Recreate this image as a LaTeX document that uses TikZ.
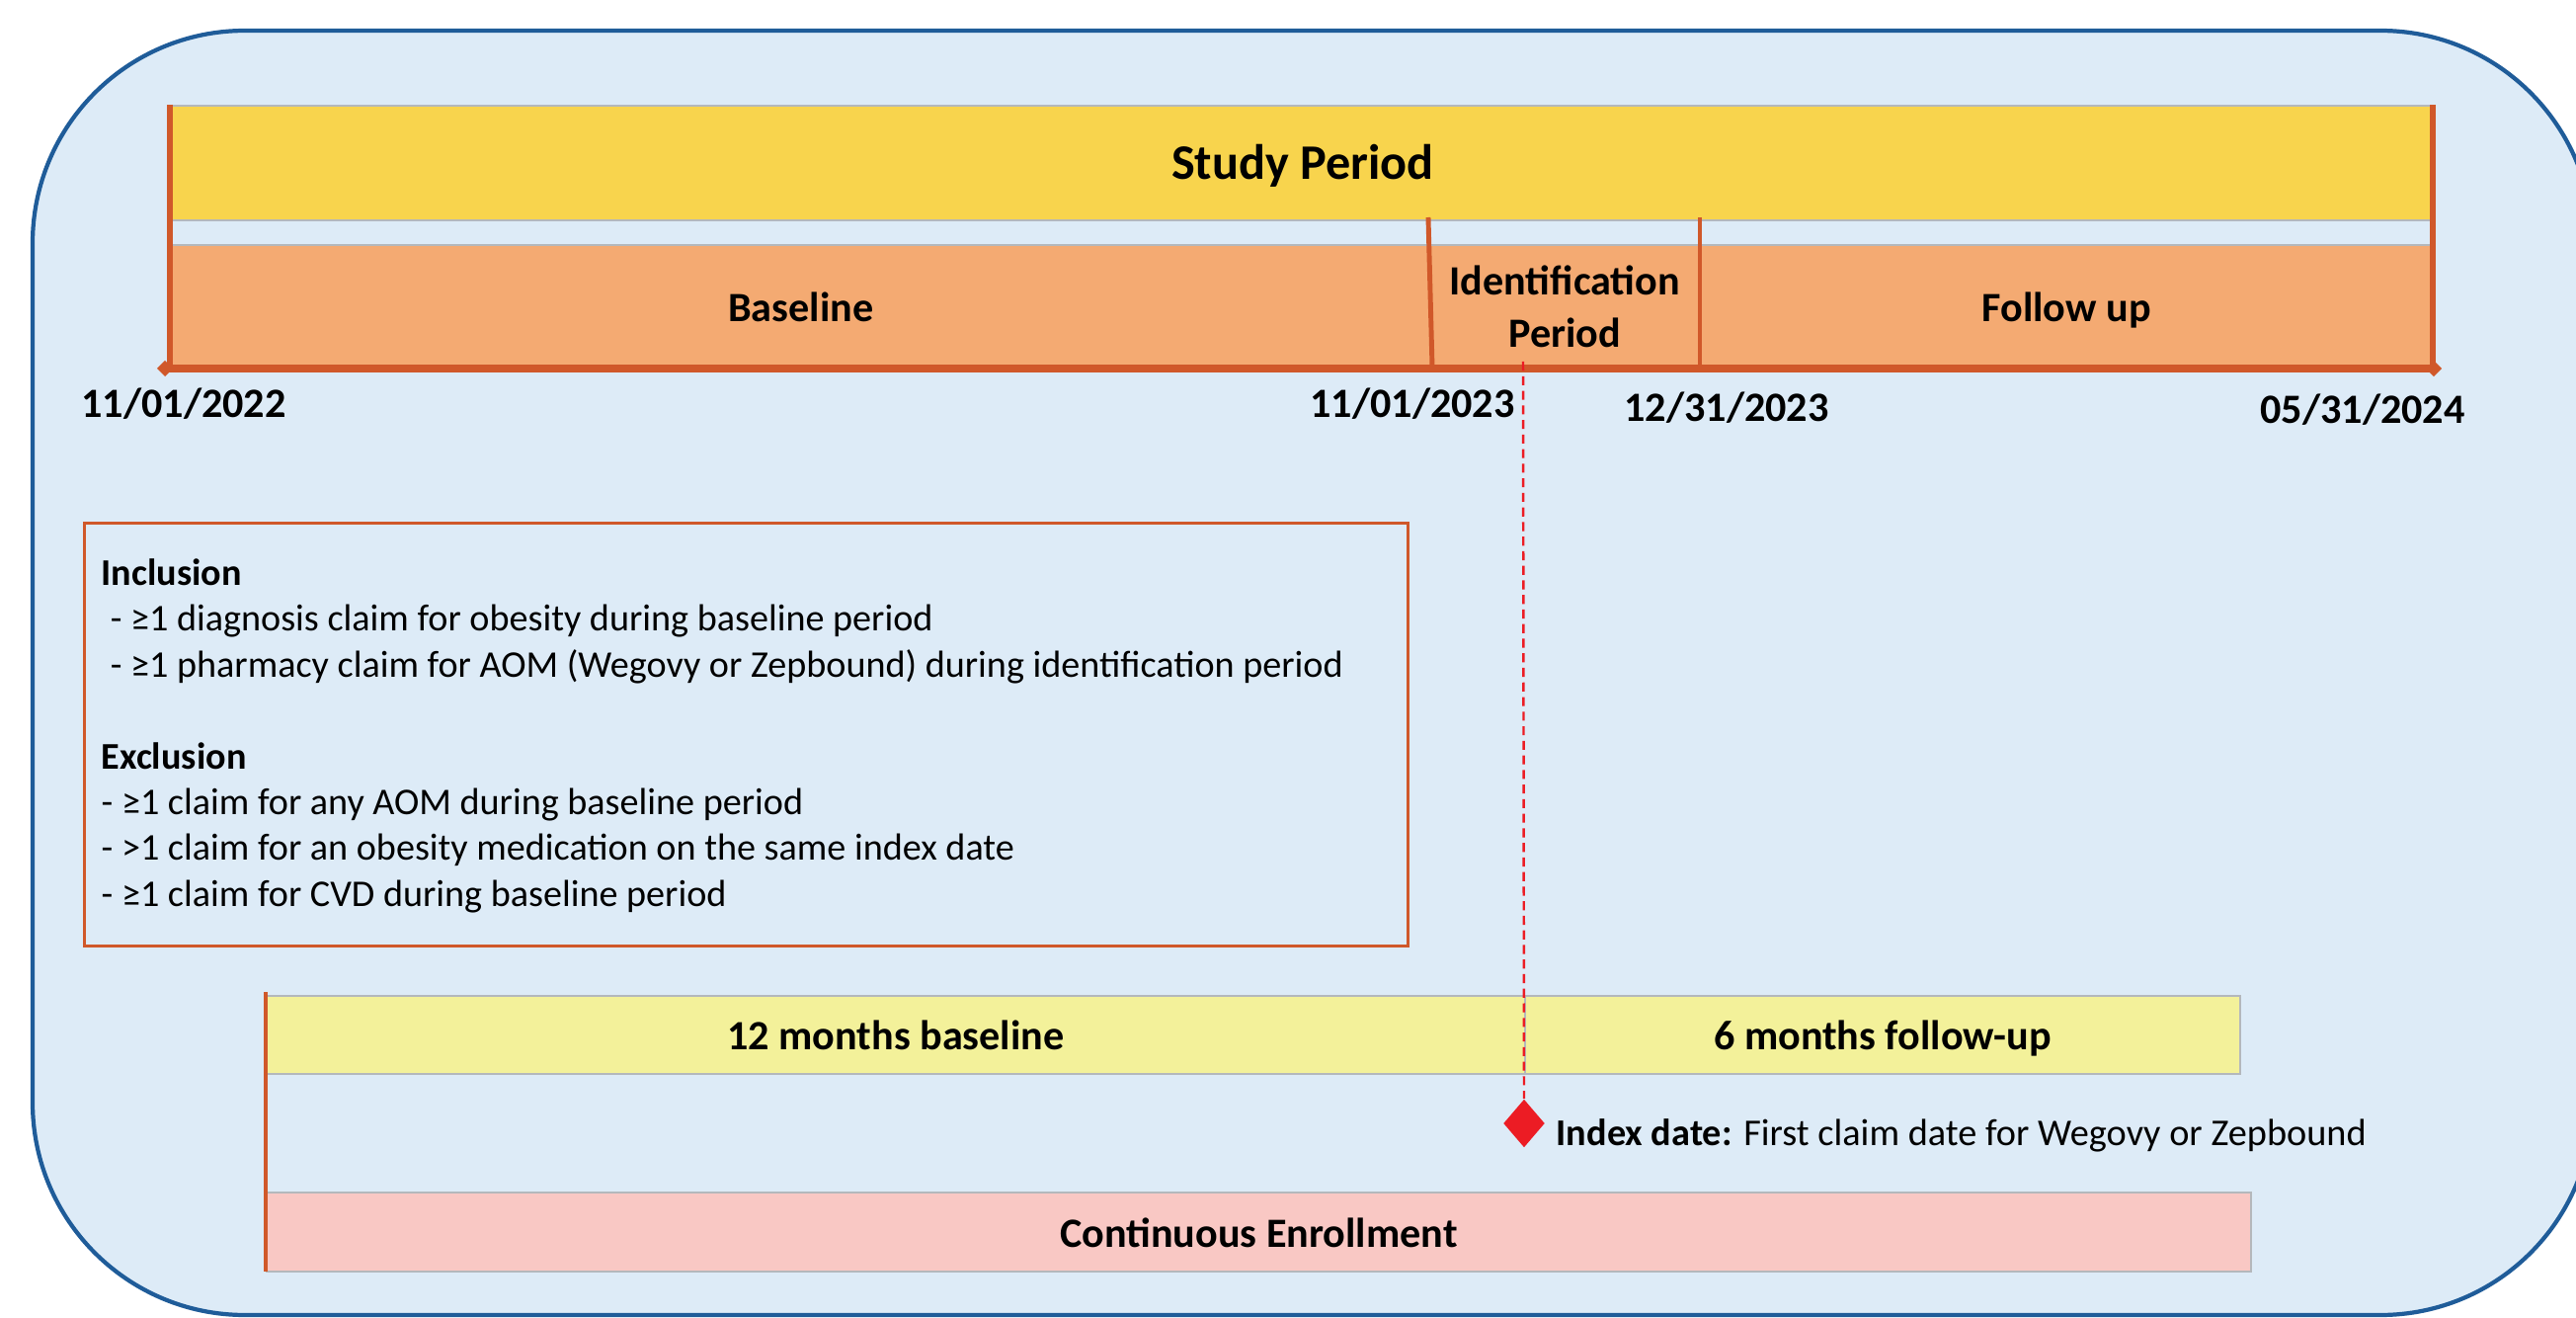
\documentclass[tikz,border=0pt]{standalone}
\usepackage{fontspec}
\setmainfont{Carlito}
\usetikzlibrary{shapes.geometric,arrows.meta}
\definecolor{bgblue}{HTML}{DDEBF7}
\definecolor{edgeblue}{HTML}{1F5C99}
\definecolor{studyyel}{HTML}{F8D44D}
\definecolor{phaseor}{HTML}{F4AA72}
\definecolor{lineor}{HTML}{D0582A}
\definecolor{lightyel}{HTML}{F3F19A}
\definecolor{pinkbar}{HTML}{F9C8C4}
\definecolor{idxred}{HTML}{EC1C24}
\definecolor{bargray}{HTML}{B4B8BC}
\tikzset{
  barbox/.style={anchor=north west, inner sep=0pt, draw=bargray, line width=0.5pt},
  phasebox/.style={anchor=north west, inner sep=0pt, fill=phaseor, draw=none},
  lbl/.style={font=\fontsize{12}{14}\selectfont\bfseries, align=center, inner sep=0pt, text height=10.5pt, text depth=1.8pt},
  lbltwo/.style={font=\fontsize{12}{14.3}\selectfont\bfseries, align=center, inner sep=0pt},
  datelbl/.style={font=\fontsize{12}{14}\selectfont\bfseries, inner sep=0pt},
  tick/.style={draw=lineor, line width=1.4pt},
  edgetick/.style={draw=lineor, line width=1.9pt},
}
\begin{document}
\begin{tikzpicture}
\useasboundingbox (0,0) rectangle (26.08,-13.34);
\clip (0,0) rectangle (26.08,-13.34);
% outer frame
\draw[fill=bgblue, draw=edgeblue, line width=1.2pt, rounded corners=2.15cm] (0.33,-0.31) rectangle (26.25,-13.31);
% study period
\node[barbox, fill=studyyel, minimum width=22.90cm, minimum height=1.16cm] (study) at (1.73,-1.06) {};
\node[font=\fontsize{14.3}{16}\selectfont\bfseries, inner sep=0pt] (studyt) at ([yshift=-0.03cm]study.center) {Study Period};
% phase bar
\node[phasebox, minimum width=12.74cm, minimum height=1.23cm] (base) at (1.73,-2.48) {};
\node[phasebox, minimum width=2.73cm, minimum height=1.23cm] (ident) at (14.47,-2.48) {};
\node[phasebox, minimum width=7.43cm, minimum height=1.23cm] (follow) at (17.20,-2.48) {};
\draw[bargray, line width=0.5pt] (base.north west) -- (follow.north east);
\node[lbl] (baset) at (base.center) {Baseline};
\node[lbltwo] (identt) at (ident.center) {Identification\\[0.6pt]Period};
\node[lbl] (followt) at (follow.center) {Follow up};
% ticks
\coordinate (l0) at (1.72,-1.06);
\coordinate (l1) at (1.72,-3.71);
\coordinate (r0) at (24.63,-1.06);
\coordinate (r1) at (24.63,-3.71);
\coordinate (m0) at (14.46,-2.20);
\coordinate (m1) at (14.50,-3.71);
\coordinate (n0) at (17.21,-2.20);
\coordinate (n1) at (17.21,-3.71);
\draw[edgetick] (l0) -- (l1);
\draw[edgetick] (r0) -- (r1);
\draw[tick] (m0) -- (m1);
\draw[tick] (n0) -- (n1);
\coordinate (axl) at (1.59,-3.73);
\coordinate (axr) at (24.72,-3.73);
\draw[draw=lineor, line width=2pt, {Diamond[length=4.6pt,width=4.6pt]}-{Diamond[length=4.6pt,width=4.6pt]}] (axl) -- (axr);
% dates
\node[datelbl] (d1) at (1.86,-4.09) {11/01/2022};
\node[datelbl] (d2) at (14.30,-4.09) {11/01/2023};
\node[datelbl] (d3) at (17.48,-4.13) {12/31/2023};
\node[datelbl] (d4) at (23.92,-4.15) {05/31/2024};
% criteria box
\node[draw=lineor, line width=0.9pt, anchor=north west, minimum width=13.40cm, minimum height=4.28cm, inner sep=0pt] (crit) at (0.84,-5.28) {};
\node[anchor=north west, align=left, inner sep=0pt, font=\fontsize{10.86}{13.2}\selectfont] (critt) at (1.02,-5.65) {%
\textbf{Inclusion}\\
\hspace*{2.6pt}- ≥1 diagnosis claim for obesity during baseline period\\
\hspace*{2.6pt}- ≥1 pharmacy claim for AOM (Wegovy or Zepbound) during identification period\\
\mbox{}\\
\textbf{Exclusion}\\
- ≥1 claim for any AOM during baseline period\\
- >1 claim for an obesity medication on the same index date\\
- ≥1 claim for CVD during baseline period};
% lower bars
\node[barbox, fill=lightyel, minimum width=12.74cm, minimum height=0.79cm] (b12) at (2.69,-10.07) {};
\node[barbox, fill=lightyel, minimum width=7.24cm, minimum height=0.79cm] (f6) at (15.43,-10.07) {};
\node[lbl] (b12t) at (b12.center) {12 months baseline};
\node[lbl] (f6t) at (f6.center) {6 months follow-up};
\node[barbox, fill=pinkbar, minimum width=20.09cm, minimum height=0.80cm] (ce) at (2.69,-12.06) {};
\node[lbl] (cet) at (ce.center) {Continuous Enrollment};
\coordinate (lb0) at (2.69,-10.04);
\coordinate (lb1) at (2.69,-12.87);
\draw[draw=lineor, line width=1.2pt] (lb0) -- (lb1);
% index date
\node[diamond, fill=idxred, inner sep=0pt, minimum width=0.42cm, minimum height=0.49cm, aspect=0.86] (idx) at (15.43,-11.37) {};
\coordinate (dtop) at (15.42,-3.66);
\draw[draw=idxred, line width=0.7pt, dash pattern=on 2.6pt off 1.6pt] (dtop) -- (idx.north);
\node[anchor=west, inner sep=0pt, font=\fontsize{10.9}{13}\selectfont] (idxt) at (15.75,-11.49) {\textbf{Index date:} First claim date for Wegovy or Zepbound};
\end{tikzpicture}
\end{document}
